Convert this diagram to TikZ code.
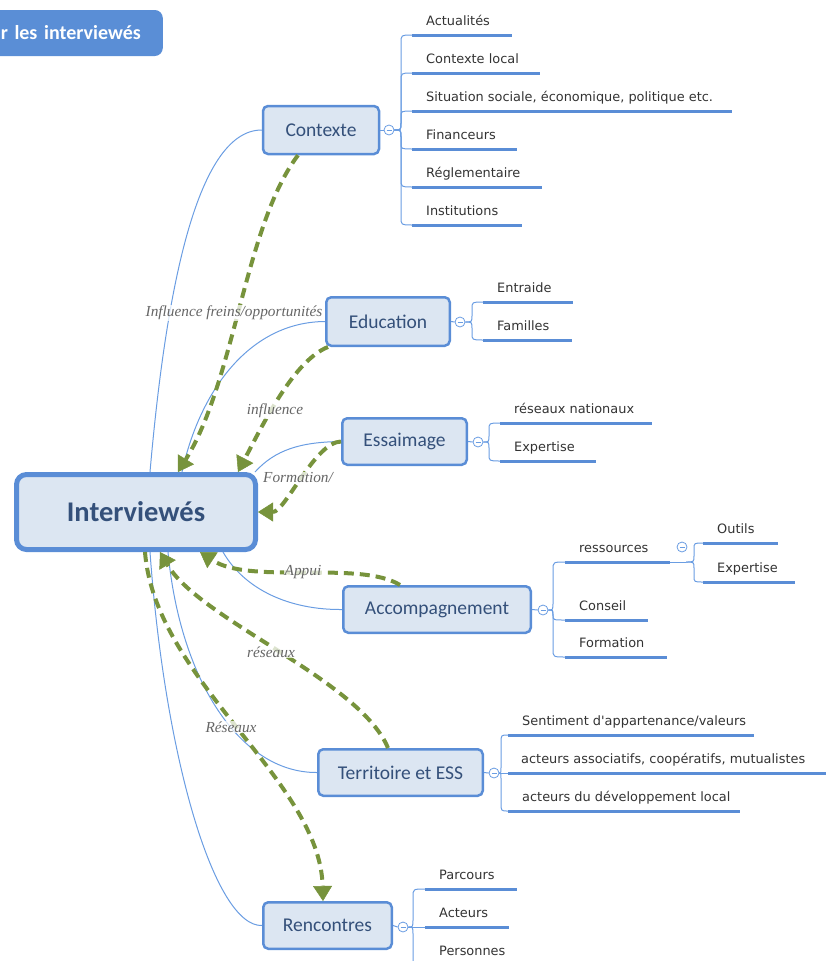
\documentclass[tikz,border=0pt]{standalone}
\usepackage{fontspec}
\setmainfont{Carlito}
\newfontfamily\lblfont{Liberation Serif}
\newfontfamily\childfont{DejaVu Sans}
\usetikzlibrary{arrows.meta,calc}
\definecolor{boxfill}{HTML}{DCE6F2}
\definecolor{boxdraw}{HTML}{5A8DD6}
\definecolor{branchc}{HTML}{6A9DE2}
\definecolor{ulinec}{HTML}{5A8DD6}
\definecolor{maintext}{HTML}{34507A}
\definecolor{childtxt}{HTML}{333333}
\definecolor{flowgreen}{HTML}{77933C}
\definecolor{lblgray}{HTML}{666666}
\definecolor{titleblue}{HTML}{5A8ED6}
\newcommand\mmchild[8]{%
  \coordinate (#1-s) at (#4,#6);
  \coordinate (#1-e) at (#5,#6);
  \coordinate (#1-t) at (#3,#6);
  \coordinate (#1-u) at (#2.east -| #1-t);
  \node[childtext, anchor=base west] (#1) at (#4+14,#6-10) {#7};
  \draw[branch] (#2.east) .. controls (#1-u) .. ($(#1-u)!#8!(#1-t)$) -- ($(#1-t)!#8!(#1-u)$) .. controls (#1-t) .. (#1-s);
  \draw[uline] (#1-s) -- (#1-e);
}
\begin{document}
\begin{tikzpicture}[x=1pt,y=-1pt,
  mainbox/.style={draw=boxdraw, fill=boxfill, line width=2.5pt, rounded corners=5pt,
    font=\fontsize{19.5}{23}\selectfont, text=maintext, inner sep=0pt},
  centerbox/.style={draw=boxdraw, fill=boxfill, line width=5pt, rounded corners=10pt,
    font=\bfseries\fontsize{28.5}{32}\selectfont, text=maintext, inner sep=0pt},
  childtext/.style={font=\childfont\fontsize{12.9}{15}\selectfont, text=childtxt, inner sep=0pt},
  uline/.style={draw=ulinec, line width=3pt},
  branch/.style={draw=branchc, line width=1pt},
  collapse/.style={circle, draw=branchc, fill=white, line width=0.8pt, minimum size=10pt, inner sep=0pt,
    path picture={\draw[branchc, line width=0.8pt] ([xshift=-2.5pt]path picture bounding box.center) -- ([xshift=2.5pt]path picture bounding box.center);}},
  flow/.style={draw=flowgreen, line width=4pt, dash pattern=on 10pt off 6pt,
    -{Triangle[length=15pt,width=19pt,line width=0.5pt]}},
  flowlabel/.style={font=\lblfont\itshape\fontsize{15.3}{18}\selectfont, text=lblgray,
    fill=white, fill opacity=0.75, text opacity=1, inner sep=1pt},
  titlebox/.style={fill=titleblue, rounded corners=8pt, text=white,
    font=\bfseries\fontsize{20}{24}\selectfont, text width=170pt, align=right,
    inner xsep=22pt, minimum height=46pt}
]
\useasboundingbox (0,0) rectangle (826,961);
\clip (0,0) rectangle (826,961);

% title
\node[titlebox, anchor=east] (title) at (163,33) {r les interviewés};

% main boxes
\node[centerbox, minimum width=239pt, minimum height=75pt] (int) at (136,512) {Interviewés};
\node[mainbox, minimum width=116pt, minimum height=48pt] (ctx) at (321,130) {Contexte};
\node[mainbox, minimum width=123.5pt, minimum height=48.5pt] (edu) at (388,321.5) {Education};
\node[mainbox, minimum width=124.5pt, minimum height=46.5pt] (ess) at (404.5,441.5) {Essaimage};
\node[mainbox, minimum width=187.5pt, minimum height=46.5pt] (acc) at (437,609.5) {Accompagnement};
\node[mainbox, minimum width=164.5pt, minimum height=46.5pt] (ter) at (400.5,772.5) {Territoire et ESS};
\node[mainbox, minimum width=128.5pt, minimum height=46.5pt] (ren) at (327.5,925.5) {Rencontres};

% blue connectors from the centre
\draw[branch] ([xshift=14pt]int.north) .. controls (165,300) and (195,130) .. (ctx.west);
\draw[branch] ([xshift=46pt]int.north) .. controls (200,390) and (250,322) .. (edu.west);
\draw[branch] ([xshift=-3pt]int.north east) .. controls (275,450) and (300,442) .. (ess.west);
\draw[branch] ([xshift=87pt]int.south) .. controls (245,590) and (290,610) .. (acc.west);
\draw[branch] ([xshift=32pt]int.south) .. controls (180,680) and (240,773) .. (ter.west);
\draw[branch] ([xshift=14pt]int.south) .. controls (165,760) and (215,927) .. (ren.west);

% collapse circles
\node[collapse] (cc) at (389,130) {};
\node[collapse] (ce) at (460,322) {};
\node[collapse] (cs) at (478,442) {};
\node[collapse] (ca) at (543,610) {};
\node[collapse] (ct) at (494,773) {};
\node[collapse] (cr) at (403,927) {};
\node[collapse] (cres) at (682,547) {};
\draw[branch] (ctx.east) -- (cc.west);
\draw[branch] (edu.east) -- (ce.west);
\draw[branch] (ess.east) -- (cs.west);
\draw[branch] (acc.east) -- (ca.west);
\draw[branch] (ter.east) -- (ct.west);
\draw[branch] (ren.east) -- (cr.west);

% Contexte children
\mmchild{c1}{cc}{401}{412}{512}{35}{Actualités}{8pt}
\mmchild{c2}{cc}{401}{412}{540}{73}{Contexte local}{8pt}
\mmchild{c3}{cc}{401}{412}{732}{111}{Situation sociale, économique, politique etc.}{6pt}
\mmchild{c4}{cc}{401}{412}{517}{149}{Financeurs}{6pt}
\mmchild{c5}{cc}{401}{412}{542}{187}{Réglementaire}{8pt}
\mmchild{c6}{cc}{401}{412}{522}{225}{Institutions}{8pt}

% Education children
\mmchild{e1}{ce}{472}{483}{573}{302}{Entraide}{7pt}
\mmchild{e2}{ce}{472}{483}{572}{340}{Familles}{7pt}

% Essaimage children
\mmchild{s1}{cs}{489}{500}{652}{423}{réseaux nationaux}{7pt}
\mmchild{s2}{cs}{489}{500}{596}{461}{Expertise}{7pt}

% Accompagnement children
\mmchild{a1}{ca}{553}{565}{670}{562}{ressources}{8pt}
\mmchild{a2}{ca}{553}{565}{648}{620}{Conseil}{4.5pt}
\mmchild{a3}{ca}{553}{565}{667}{657}{Formation}{8pt}
\node[inner sep=0pt, minimum size=0pt] (rj) at (686,562) {};
\draw[branch] (a1-e) -- (rj);
\mmchild{o1}{rj}{694}{703}{778}{543}{Outils}{6pt}
\mmchild{o2}{rj}{694}{703}{795}{582}{Expertise}{6pt}

% Territoire children
\mmchild{t1}{ct}{501}{508}{754}{735}{Sentiment d\textquotesingle appartenance/valeurs}{8pt}
\coordinate (t2-s) at (508,773);
\coordinate (t2-e) at (830,773);
\node[childtext, anchor=base west] (t2) at (521,763) {acteurs associatifs, coopératifs, mutualistes};
\draw[branch] (ct.east) -- (t2-s);
\draw[uline] (t2-s) -- (t2-e);
\mmchild{t3}{ct}{501}{508}{740}{811}{acteurs du développement local}{8pt}

% Rencontres children
\mmchild{r1}{cr}{413}{425}{517}{889}{Parcours}{8pt}
\coordinate (r2-s) at (425,927);
\coordinate (r2-e) at (509,927);
\node[childtext, anchor=base west] (r2) at (439,917) {Acteurs};
\draw[branch] (cr.east) -- (r2-s);
\draw[uline] (r2-s) -- (r2-e);
\mmchild{r3}{cr}{413}{425}{520}{965}{Personnes}{8pt}

% green dashed relations
\draw[flow] ([xshift=-23pt]ctx.south) .. controls (245,225) and (235,380) .. ([xshift=42pt]int.north);
\draw[flow] ([xshift=3pt]edu.south west) .. controls (295,360) and (265,420) .. ([xshift=102pt]int.north);
\draw[flow] (ess.west) .. controls (315,442) and (285,512) .. (int.east);
\draw[flow] ([xshift=-37pt]acc.north) .. controls (360,560) and (250,585) .. ([xshift=64pt]int.south);
\draw[flow] ([xshift=-12.5pt]ter.north) .. controls (360,680) and (200,620) .. ([xshift=24pt]int.south);
\draw[flow] ([xshift=9pt]int.south) .. controls (155,680) and (320,780) .. ([xshift=-4.5pt]ren.north);

% relation labels
\node[flowlabel] (l1) at (234,313) {Influence freins/opportunités};
\node[flowlabel] (l2) at (275,411) {influence};
\node[flowlabel] (l3) at (298,478) {Formation/};
\node[flowlabel] (l4) at (303,572) {Appui};
\node[flowlabel] (l5) at (271,652) {réseaux};
\node[flowlabel] (l6) at (231,727) {Réseaux};
\end{tikzpicture}
\end{document}
